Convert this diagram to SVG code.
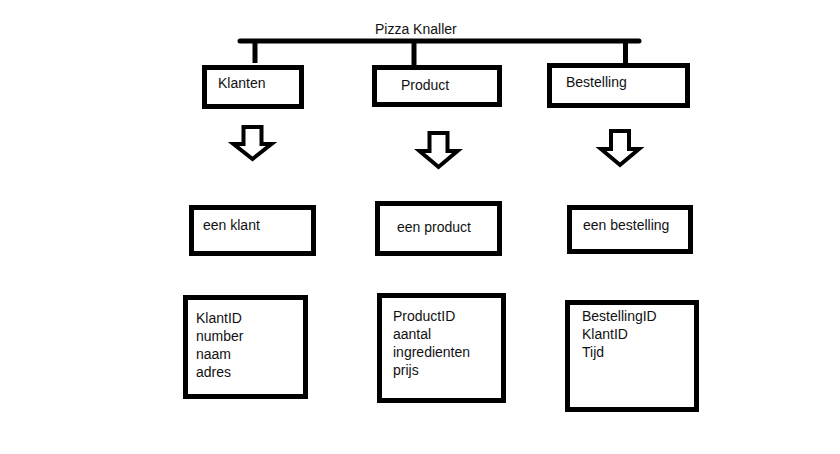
<svg xmlns="http://www.w3.org/2000/svg" width="840" height="454" viewBox="0 0 840 454">
<style>
.box{fill:#fff;stroke:#000;stroke-width:5}
.t{font-family:"Liberation Sans",Arial,sans-serif;font-size:14px;fill:#111}
.ln{stroke:#000;stroke-width:5;fill:none}
.ar{fill:#fff;stroke:#000;stroke-width:4;stroke-linejoin:miter}
</style>
<rect width="840" height="454" fill="#fff"/>
<text class="t" x="375" y="34">Pizza Knaller</text>
<g id="connectors">
<line class="ln" x1="240" y1="41" x2="639" y2="41" stroke-linecap="round"/>
<line class="ln" x1="255" y1="41" x2="255" y2="63"/>
<line class="ln" x1="414" y1="41" x2="414" y2="65"/>
<line class="ln" x1="625.5" y1="41" x2="625.5" y2="63"/>
<polygon class="ar" points="243.5,127 261.5,127 261.5,144 271.5,144 252.5,159 233.5,144 243.5,144"/>
<polygon class="ar" points="429.5,133 447.5,133 447.5,151 457.5,151 438.5,167 419.5,151 429.5,151"/>
<polygon class="ar" points="611,131 629,131 629,149 639,149 620,165 601,149 611,149"/>
</g>
<g id="klanten">
<rect class="box" x="204.5" y="67.5" width="97" height="39"/>
<text class="t" x="218" y="88">Klanten</text>
</g>
<g id="product">
<rect class="box" x="374.5" y="67.5" width="125" height="37"/>
<text class="t" x="401" y="90">Product</text>
</g>
<g id="bestelling">
<rect class="box" x="549.5" y="65.5" width="138" height="40"/>
<text class="t" x="566" y="87">Bestelling</text>
</g>
<g id="een-klant">
<rect class="box" x="191.5" y="207.5" width="122" height="46"/>
<text class="t" x="203" y="230">een klant</text>
</g>
<g id="een-product">
<rect class="box" x="377.5" y="203.5" width="122" height="50"/>
<text class="t" x="397" y="232">een product</text>
</g>
<g id="een-bestelling">
<rect class="box" x="569.5" y="207.5" width="121" height="44"/>
<text class="t" x="583" y="230">een bestelling</text>
</g>
<g id="klant-attrs">
<rect class="box" x="185.5" y="297.5" width="120" height="99"/>
<text class="t" x="196" y="323">KlantID</text>
<text class="t" x="196" y="341">number</text>
<text class="t" x="196" y="359">naam</text>
<text class="t" x="196" y="377">adres</text>
</g>
<g id="product-attrs">
<rect class="box" x="379.5" y="295.5" width="124" height="105"/>
<text class="t" x="393" y="321">ProductID</text>
<text class="t" x="393" y="339">aantal</text>
<text class="t" x="393" y="357">ingredienten</text>
<text class="t" x="393" y="375">prijs</text>
</g>
<g id="bestelling-attrs">
<rect class="box" x="567.5" y="302.5" width="129" height="107"/>
<text class="t" x="582" y="321">BestellingID</text>
<text class="t" x="582" y="339">KlantID</text>
<text class="t" x="582" y="357">Tijd</text>
</g>
</svg>
